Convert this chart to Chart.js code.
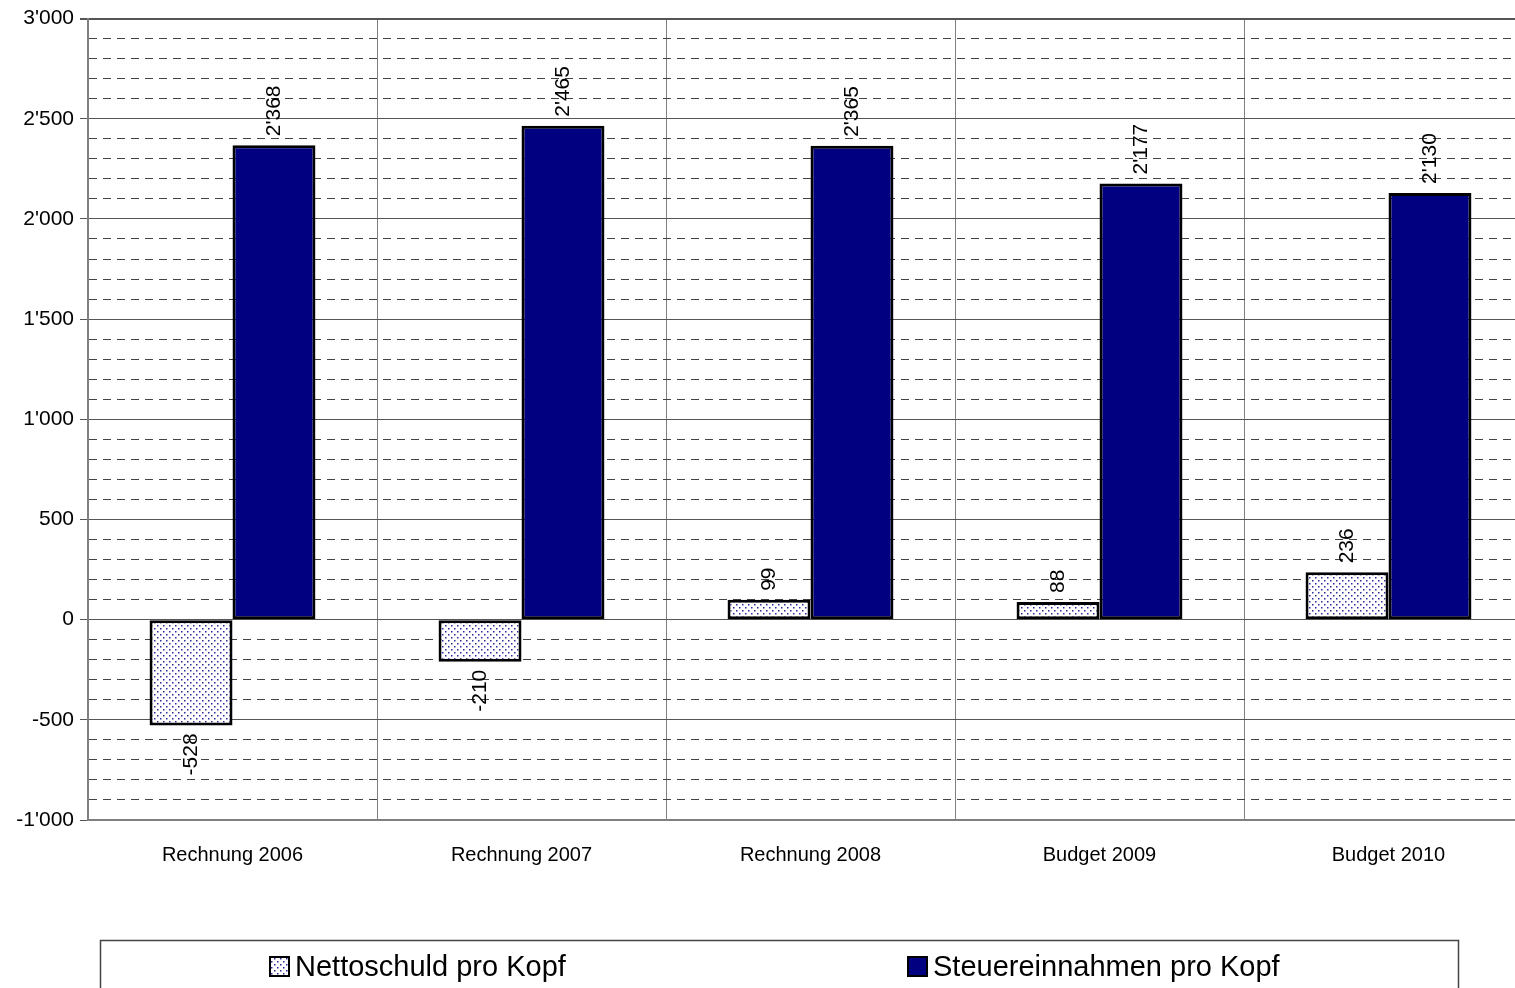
<!DOCTYPE html>
<html>
<head>
<meta charset="utf-8">
<script src="https://cdn.jsdelivr.net/npm/chart.js@4/dist/chart.umd.min.js"></script>
<style>
  body { margin: 0; overflow: hidden; background: #fff; }
  #wrap { width: 1540px; height: 988px; }
</style>
</head>
<body>
<div id="wrap"><canvas id="chart"></canvas></div>
<script>
var categories = ["Rechnung 2006", "Rechnung 2007", "Rechnung 2008", "Budget 2009", "Budget 2010"];
var nettoschuld = [-528, -210, 99, 88, 236];
var steuer = [2368, 2465, 2365, 2177, 2130];
var seriesNames = ["Nettoschuld pro Kopf", "Steuereinnahmen pro Kopf"];

var FONT = "Arial, 'Liberation Sans', sans-serif";
var NAVY = "#000080";

// apostrophe as thousands separator, e.g. 2'368
function fmt(v) {
    var s = String(Math.abs(Math.round(v)));
    s = s.replace(/\B(?=(\d{3})+(?!\d))/g, "'");
    return (v < 0 ? "-" : "") + s;
}

// dotted fill for the first series
function dotPattern() {
    var c = document.createElement("canvas");
    c.width = 6; c.height = 6;
    var g = c.getContext("2d");
    g.fillStyle = "#fff";
    g.fillRect(0, 0, 6, 6);
    g.fillStyle = "#2a2aa0";
    g.fillRect(1, 1, 1.5, 1.5);
    g.fillRect(4, 4, 1.5, 1.5);
    return g.createPattern(c, "repeat");
}
var dots = dotPattern();

var labelPlugin = {
    id: "valueLabels",
    afterDatasetsDraw: function (chart) {
        var ctx = chart.ctx;
        ctx.save();
        ctx.font = "21px " + FONT;
        ctx.fillStyle = "#000";
        ctx.textBaseline = "middle";
        chart.data.datasets.forEach(function (ds, i) {
            var meta = chart.getDatasetMeta(i);
            meta.data.forEach(function (bar, j) {
                var v = ds.data[j];
                ctx.save();
                if (v >= 0) {
                    ctx.translate(bar.x, bar.y - 9);
                    ctx.rotate(-Math.PI / 2);
                    ctx.textAlign = "left";
                } else {
                    ctx.translate(bar.x, bar.y + 8);
                    ctx.rotate(-Math.PI / 2);
                    ctx.textAlign = "right";
                }
                ctx.fillText(fmt(v), 0, 0);
                ctx.restore();
            });
        });
        ctx.restore();
    }
};

var legendPlugin = {
    id: "boxLegend",
    afterDraw: function (chart) {
        var ctx = chart.ctx;
        ctx.save();
        ctx.strokeStyle = "#444";
        ctx.lineWidth = 1.5;
        ctx.strokeRect(100.5, 940.5, 1358, 60);

        ctx.font = "29px " + FONT;
        ctx.textBaseline = "middle";
        ctx.fillStyle = "#000";
        var items = [
            { x: 270, fill: dots, text: seriesNames[0] },
            { x: 908, fill: NAVY, text: seriesNames[1] }
        ];
        items.forEach(function (it) {
            ctx.fillStyle = it.fill;
            ctx.fillRect(it.x, 957, 19, 19);
            ctx.lineWidth = 2;
            ctx.strokeStyle = "#000";
            ctx.strokeRect(it.x, 957, 19, 19);
            ctx.fillStyle = "#000";
            ctx.fillText(it.text, it.x + 25, 968);
        });
        ctx.restore();
    }
};

new Chart(document.getElementById("chart"), {
    type: "bar",
    data: {
        labels: categories,
        datasets: [{
            label: seriesNames[0],
            data: nettoschuld,
            backgroundColor: dots,
            borderColor: "#000",
            borderWidth: 3,
            borderSkipped: false
        }, {
            label: seriesNames[1],
            data: steuer,
            backgroundColor: NAVY,
            borderColor: "#000",
            borderWidth: 3,
            borderSkipped: false
        }]
    },
    options: {
        responsive: true,
        maintainAspectRatio: false,
        animation: false,
        categoryPercentage: 0.574,
        barPercentage: 1.0,
        layout: { padding: { top: 18, right: 7, bottom: 108, left: 0 } },
        plugins: {
            legend: { display: false },
            tooltip: { enabled: false }
        },
        scales: {
            x: {
                afterFit: function (s) { s.height = 60; },
                grid: {
                    color: "#808080",
                    lineWidth: 1,
                    offset: true,
                    drawTicks: false
                },
                border: { color: "#808080", width: 2 },
                ticks: {
                    color: "#000",
                    padding: 23,
                    font: { family: FONT, size: 20 }
                }
            },
            y: {
                min: -1000,
                max: 3000,
                afterFit: function (s) { s.width = 88; },
                grid: {
                    color: function (c) { return c.tick && c.tick.value % 500 === 0 ? "#555" : "#444"; },
                    lineWidth: function (c) { return c.tick && c.tick.value === 3000 ? 2 : 1; },
                    tickLength: 8,
                    tickColor: function (c) { return c.tick && c.tick.value % 500 === 0 ? "#555" : "rgba(0,0,0,0)"; }
                },
                border: {
                    color: "#808080",
                    width: 2,
                    dash: function (c) { return c.tick && c.tick.value % 500 === 0 ? [] : [8, 6]; }
                },
                ticks: {
                    stepSize: 100,
                    autoSkip: false,
                    color: "#000",
                    padding: 6,
                    font: { family: FONT, size: 21 },
                    callback: function (v) { return v % 500 === 0 ? fmt(v) : ""; }
                }
            }
        }
    },
    plugins: [labelPlugin, legendPlugin]
});
</script>
</body>
</html>
